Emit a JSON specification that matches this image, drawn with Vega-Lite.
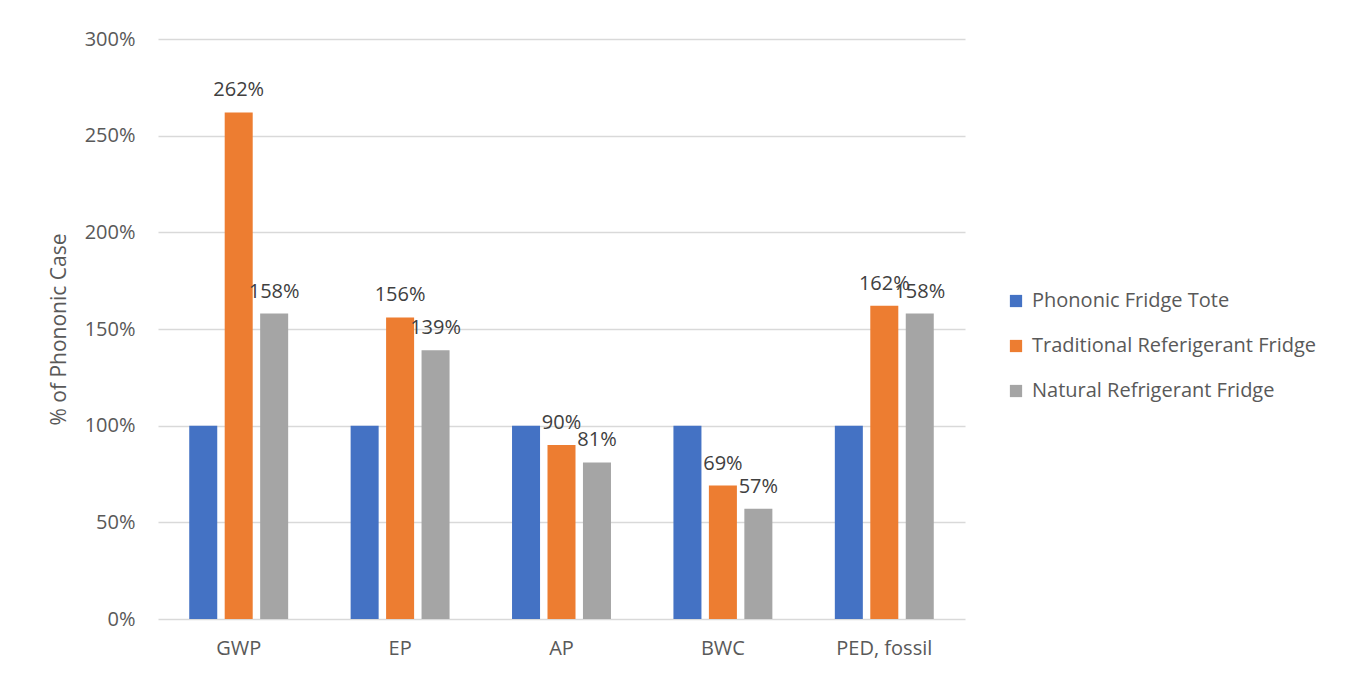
{
  "$schema": "https://vega.github.io/schema/vega-lite/v6.json",
  "autosize": "none",
  "width": 807,
  "height": 580,
  "padding": {"left": 158, "top": 39, "right": 389, "bottom": 58},
  "background": "white",
  "config": {
    "font": "Open Sans",
    "view": {"stroke": null},
    "axis": {"labelColor": "#595959", "titleColor": "#595959", "labelFont": "Open Sans", "titleFont": "Open Sans"},
    "legend": {"labelColor": "#595959", "labelFont": "Open Sans"}
  },
  "data": {
    "values": [
      {"impact": "GWP", "series": "Phononic Fridge Tote", "value": 1.00},
      {"impact": "GWP", "series": "Traditional Referigerant Fridge", "value": 2.62},
      {"impact": "GWP", "series": "Natural Refrigerant Fridge", "value": 1.58},
      {"impact": "EP", "series": "Phononic Fridge Tote", "value": 1.00},
      {"impact": "EP", "series": "Traditional Referigerant Fridge", "value": 1.56},
      {"impact": "EP", "series": "Natural Refrigerant Fridge", "value": 1.39},
      {"impact": "AP", "series": "Phononic Fridge Tote", "value": 1.00},
      {"impact": "AP", "series": "Traditional Referigerant Fridge", "value": 0.90},
      {"impact": "AP", "series": "Natural Refrigerant Fridge", "value": 0.81},
      {"impact": "BWC", "series": "Phononic Fridge Tote", "value": 1.00},
      {"impact": "BWC", "series": "Traditional Referigerant Fridge", "value": 0.69},
      {"impact": "BWC", "series": "Natural Refrigerant Fridge", "value": 0.57},
      {"impact": "PED, fossil", "series": "Phononic Fridge Tote", "value": 1.00},
      {"impact": "PED, fossil", "series": "Traditional Referigerant Fridge", "value": 1.62},
      {"impact": "PED, fossil", "series": "Natural Refrigerant Fridge", "value": 1.58}
    ]
  },
  "encoding": {
    "x": {
      "field": "impact",
      "type": "nominal",
      "sort": ["GWP", "EP", "AP", "BWC", "PED, fossil"],
      "scale": {"paddingInner": 0.387, "paddingOuter": 0.1935},
      "axis": {
        "title": null,
        "labelAngle": 0,
        "labelFontSize": 20,
        "labelPadding": 19,
        "ticks": false,
        "domain": false
      }
    },
    "xOffset": {
      "field": "series",
      "type": "nominal",
      "sort": ["Phononic Fridge Tote", "Traditional Referigerant Fridge", "Natural Refrigerant Fridge"],
      "scale": {"paddingInner": 0.21, "paddingOuter": 0}
    },
    "y": {
      "field": "value",
      "type": "quantitative",
      "scale": {"domain": [0, 3], "nice": false},
      "axis": {
        "title": "% of Phononic Case",
        "titleFontSize": 21,
        "titleFontWeight": "normal",
        "titlePadding": 15,
        "format": ".0%",
        "values": [0, 0.5, 1, 1.5, 2, 2.5, 3],
        "labelFontSize": 20,
        "labelPadding": 23,
        "ticks": false,
        "domain": false,
        "grid": true,
        "gridColor": "#d9d9d9",
        "gridWidth": 1.5
      }
    }
  },
  "layer": [
    {
      "mark": {"type": "bar"},
      "encoding": {
        "color": {
          "field": "series",
          "type": "nominal",
          "sort": ["Phononic Fridge Tote", "Traditional Referigerant Fridge", "Natural Refrigerant Fridge"],
          "scale": {
            "domain": ["Phononic Fridge Tote", "Traditional Referigerant Fridge", "Natural Refrigerant Fridge"],
            "range": ["#4472C4", "#ED7D31", "#A5A5A5"]
          },
          "legend": {
            "title": null,
            "orient": "none",
            "legendX": 848,
            "legendY": 252,
            "symbolType": "square",
            "symbolSize": 150,
            "symbolStrokeWidth": 0,
            "labelFontSize": 20,
            "labelOffset": 6,
            "rowPadding": 25,
            "labelLimit": 400
          }
        }
      }
    },
    {
      "transform": [{"filter": "datum.series !== 'Phononic Fridge Tote'"}],
      "mark": {"type": "text", "baseline": "bottom", "dy": -12, "fontSize": 20, "color": "#404040"},
      "encoding": {
        "text": {"field": "value", "type": "quantitative", "format": ".0%"}
      }
    }
  ]
}
